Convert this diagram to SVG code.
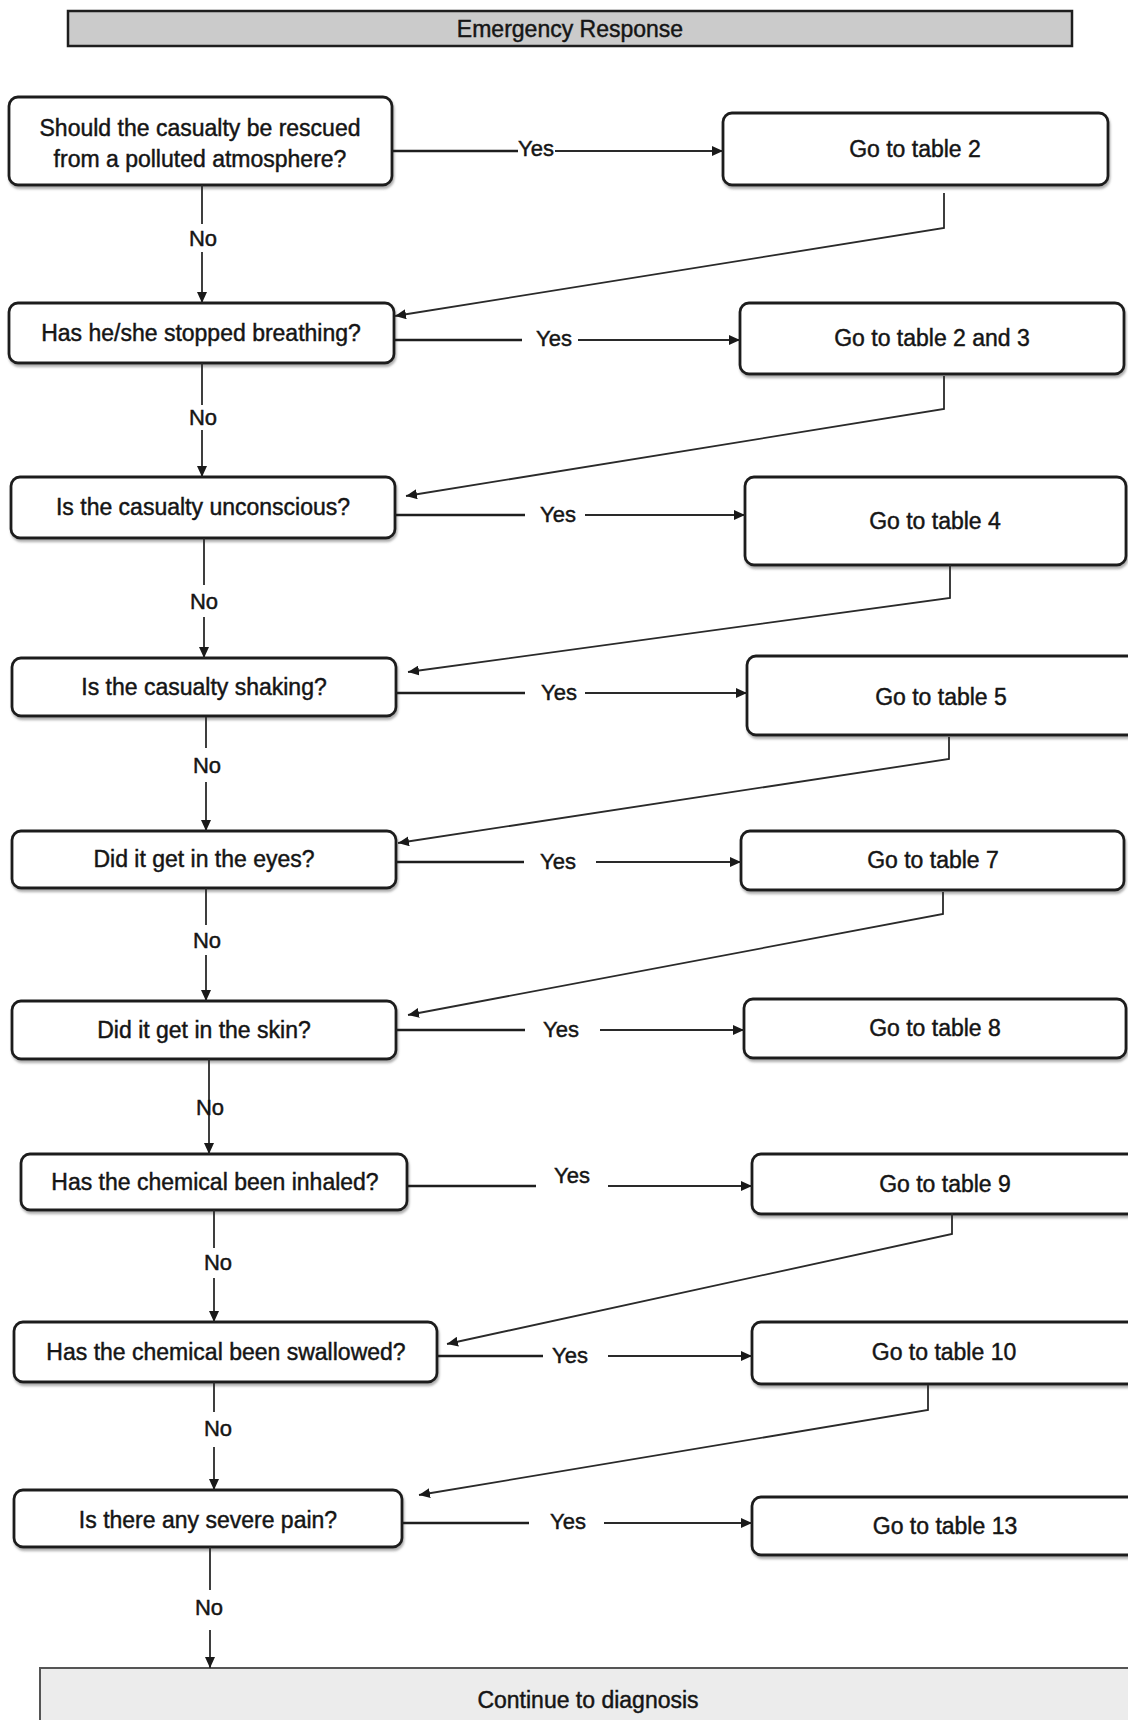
<svg xmlns="http://www.w3.org/2000/svg" width="1128" height="1720" viewBox="0 0 1128 1720">
<style>
.box{fill:#fff;stroke:#1e1e1e;stroke-width:2.8;filter:url(#sh)}
.t{font-family:"Liberation Sans",Arial,sans-serif;font-size:23px;fill:#151515;stroke:#151515;stroke-width:0.45;text-anchor:middle;dominant-baseline:central}
.lbl{font-family:"Liberation Sans",Arial,sans-serif;font-size:22px;fill:#151515;stroke:#151515;stroke-width:0.45;text-anchor:middle;dominant-baseline:central}
.c{fill:none;stroke:#2a2a2a;stroke-width:1.8}
.c0{fill:none;stroke:#1e1e1e;stroke-width:2.6}
.a{marker-end:url(#ah)}
</style>
<defs>
<marker id="ah" markerUnits="userSpaceOnUse" markerWidth="11" markerHeight="10" refX="11" refY="5" orient="auto">
<path d="M0,0 L11,5 L0,10 z" fill="#1a1a1a"/>
</marker>
<filter id="sh" x="-5%" y="-10%" width="110%" height="130%">
<feDropShadow dx="1" dy="2.5" stdDeviation="1.2" flood-color="#777" flood-opacity="0.6"/>
</filter>
</defs>
<rect width="1128" height="1720" fill="#fff"/>

<g id="title">
<rect x="68" y="11" width="1004" height="35" fill="#cbcbcb" stroke="#1e1e1e" stroke-width="2.5"/>
<text class="t" x="570" y="29">Emergency Response</text>
</g>

<g id="q1"><rect class="box" x="9" y="97" width="383" height="88" rx="9"/>
<text class="t" x="200" y="128">Should the casualty be rescued</text>
<text class="t" x="200" y="159">from a polluted atmosphere?</text></g>
<g id="t2"><rect class="box" x="723" y="113" width="385" height="72" rx="9"/>
<text class="t" x="915" y="149">Go to table 2</text></g>

<g id="q2"><rect class="box" x="9" y="303" width="385" height="60" rx="9"/>
<text class="t" x="201" y="333">Has he/she stopped breathing?</text></g>
<g id="t23"><rect class="box" x="740" y="303" width="384" height="71" rx="9"/>
<text class="t" x="932" y="338">Go to table 2 and 3</text></g>

<g id="q3"><rect class="box" x="11" y="477" width="384" height="61" rx="9"/>
<text class="t" x="203" y="507">Is the casualty unconscious?</text></g>
<g id="t4"><rect class="box" x="745" y="477" width="381" height="88" rx="9"/>
<text class="t" x="935" y="521">Go to table 4</text></g>

<g id="q4"><rect class="box" x="12" y="658" width="384" height="58" rx="9"/>
<text class="t" x="204" y="687">Is the casualty shaking?</text></g>
<g id="t5"><rect class="box" x="747" y="656" width="390" height="79" rx="9"/>
<text class="t" x="941" y="697">Go to table 5</text></g>

<g id="q5"><rect class="box" x="12" y="831" width="384" height="57" rx="9"/>
<text class="t" x="204" y="859">Did it get in the eyes?</text></g>
<g id="t7"><rect class="box" x="741" y="831" width="383" height="59" rx="9"/>
<text class="t" x="933" y="860">Go to table 7</text></g>

<g id="q6"><rect class="box" x="12" y="1001" width="384" height="58" rx="9"/>
<text class="t" x="204" y="1030">Did it get in the skin?</text></g>
<g id="t8"><rect class="box" x="744" y="999" width="382" height="59" rx="9"/>
<text class="t" x="935" y="1028">Go to table 8</text></g>

<g id="q7"><rect class="box" x="21" y="1154" width="386" height="56" rx="9"/>
<text class="t" x="215" y="1182">Has the chemical been inhaled?</text></g>
<g id="t9"><rect class="box" x="752" y="1154" width="385" height="60" rx="9"/>
<text class="t" x="945" y="1184">Go to table 9</text></g>

<g id="q8"><rect class="box" x="14" y="1322" width="423" height="60" rx="9"/>
<text class="t" x="226" y="1352">Has the chemical been swallowed?</text></g>
<g id="t10"><rect class="box" x="752" y="1322" width="385" height="62" rx="9"/>
<text class="t" x="944" y="1352">Go to table 10</text></g>

<g id="q9"><rect class="box" x="14" y="1490" width="388" height="57" rx="9"/>
<text class="t" x="208" y="1520">Is there any severe pain?</text></g>
<g id="t13"><rect class="box" x="752" y="1497" width="385" height="58" rx="9"/>
<text class="t" x="945" y="1526">Go to table 13</text></g>

<g id="end"><rect x="40" y="1668" width="1100" height="70" fill="#ececec" stroke="#555" stroke-width="2"/>
<text class="t" x="588" y="1700">Continue to diagnosis</text></g>

<g id="connectors">
<path class="c0" d="M392,151 H518"/><path class="c a" d="M555,151 H723"/>
<text class="lbl" x="536" y="148">Yes</text>
<path class="c" d="M202,185 V224"/><path class="c a" d="M202,252 V303"/>
<text class="lbl" x="203" y="238">No</text>
<path class="c a" d="M944,193 V228 L395,316"/>

<path class="c0" d="M394,340 H522"/><path class="c a" d="M578,340 H740"/>
<text class="lbl" x="554" y="338">Yes</text>
<path class="c" d="M202,363 V405"/><path class="c a" d="M202,430 V477"/>
<text class="lbl" x="203" y="417">No</text>
<path class="c a" d="M944,376 V409 L406,496"/>

<path class="c0" d="M395,515 H525"/><path class="c a" d="M585,515 H745"/>
<text class="lbl" x="558" y="514">Yes</text>
<path class="c" d="M204,538 V585"/><path class="c a" d="M204,617 V658"/>
<text class="lbl" x="204" y="601">No</text>
<path class="c a" d="M950,565 V598 L408,672"/>

<path class="c0" d="M396,693 H525"/><path class="c a" d="M585,693 H747"/>
<text class="lbl" x="559" y="692">Yes</text>
<path class="c" d="M206,717 V748"/><path class="c a" d="M206,782 V831"/>
<text class="lbl" x="207" y="765">No</text>
<path class="c a" d="M949,737 V759 L398,843"/>

<path class="c0" d="M396,862 H524"/><path class="c a" d="M596,862 H741"/>
<text class="lbl" x="558" y="861">Yes</text>
<path class="c" d="M206,888 V925"/><path class="c a" d="M206,955 V1001"/>
<text class="lbl" x="207" y="940">No</text>
<path class="c a" d="M943,892 V914 L408,1015"/>

<path class="c0" d="M396,1030 H525"/><path class="c a" d="M600,1030 H744"/>
<text class="lbl" x="561" y="1029">Yes</text>
<path class="c a" d="M209,1059 V1154"/>
<text class="lbl" x="210" y="1107">No</text>

<path class="c0" d="M407,1186 H536"/><path class="c a" d="M608,1186 H752"/>
<text class="lbl" x="572" y="1175">Yes</text>
<path class="c" d="M214,1210 V1248"/><path class="c a" d="M214,1278 V1322"/>
<text class="lbl" x="218" y="1262">No</text>
<path class="c a" d="M952,1213 V1234 L447,1344"/>

<path class="c0" d="M437,1356 H543"/><path class="c a" d="M608,1356 H752"/>
<text class="lbl" x="570" y="1355">Yes</text>
<path class="c" d="M214,1382 V1412"/><path class="c a" d="M214,1447 V1490"/>
<text class="lbl" x="218" y="1428">No</text>
<path class="c a" d="M928,1385 V1410 L419,1495"/>

<path class="c0" d="M402,1523 H529"/><path class="c a" d="M604,1523 H752"/>
<text class="lbl" x="568" y="1521">Yes</text>
<path class="c" d="M210,1547 V1590"/><path class="c a" d="M210,1630 V1668"/>
<text class="lbl" x="209" y="1607">No</text>
</g>
</svg>
